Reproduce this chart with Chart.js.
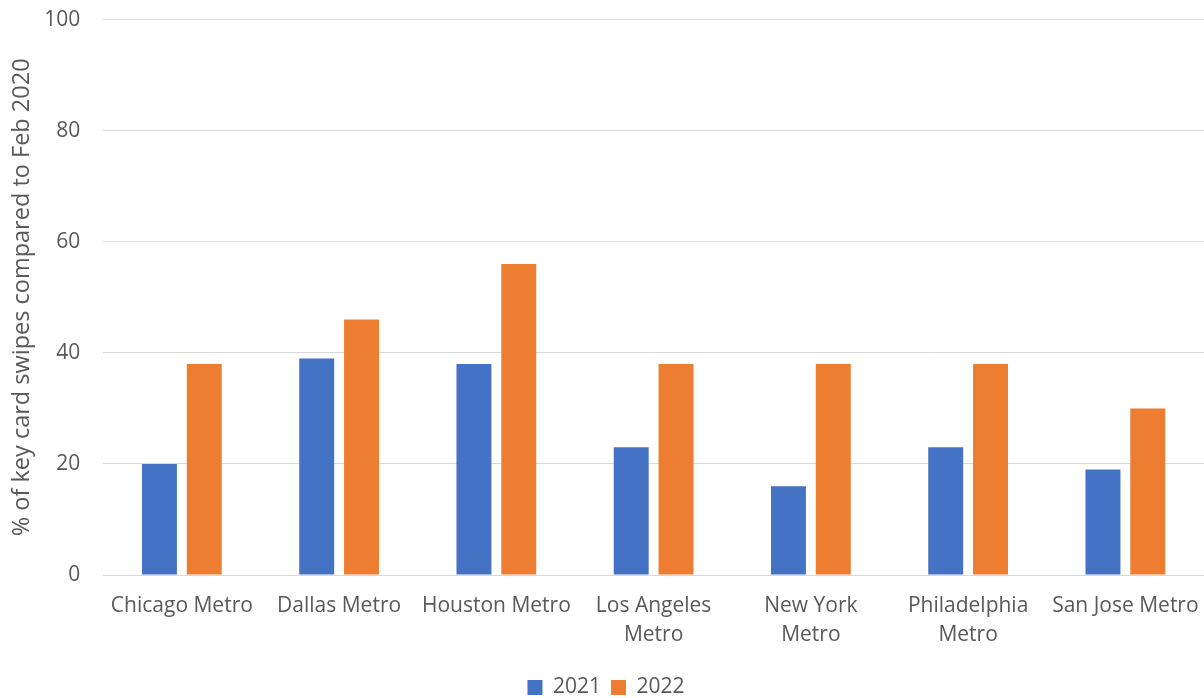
<!DOCTYPE html>
<html>
<head>
<meta charset="utf-8">
<script src="https://cdn.jsdelivr.net/npm/chart.js@4/dist/chart.umd.min.js"></script>
<style>
  html, body { margin: 0; padding: 0; background: #fff; }
  #wrap { width: 1204px; height: 698px; }
</style>
</head>
<body>
<div id="wrap"><canvas id="swipesChart"></canvas></div>
<script>
var metros = ['Chicago Metro', 'Dallas Metro', 'Houston Metro', ['Los Angeles', 'Metro'],
              ['New York', 'Metro'], ['Philadelphia', 'Metro'], 'San Jose Metro'];
var swipes2021 = [20, 39, 38, 23, 16, 23, 19];
var swipes2022 = [38, 46, 56, 38, 38, 38, 30];
var yTicks = [0, 20, 40, 60, 80, 100];

var textColor = '#595959';
var fontFamily = '"Open Sans", "Noto Sans", sans-serif';

var ctx = document.getElementById('swipesChart').getContext('2d');
new Chart(ctx, {
    type: 'bar',
    data: {
        labels: metros,
        datasets: [{
            label: '2021',
            data: swipes2021,
            backgroundColor: '#4472c4',
            barPercentage: 0.78,
            categoryPercentage: 0.57
        }, {
            label: '2022',
            data: swipes2022,
            backgroundColor: '#ed7d31',
            barPercentage: 0.78,
            categoryPercentage: 0.57
        }]
    },
    options: {
        responsive: true,
        maintainAspectRatio: false,
        animation: false,
        layout: {
            padding: { top: 0, right: 0, left: 8, bottom: -10 }
        },
        plugins: {
            legend: {
                position: 'bottom',
                labels: {
                    boxWidth: 15,
                    boxHeight: 15,
                    padding: 10,
                    color: textColor,
                    font: { family: fontFamily, size: 21 }
                }
            },
            tooltip: { enabled: false }
        },
        scales: {
            x: {
                // grid hidden, but tickLength still pushes the labels down
                grid: { display: false, drawTicks: true, tickLength: 15 },
                border: { color: '#d9d9d9', width: 1 },
                ticks: {
                    color: textColor,
                    font: { family: fontFamily, size: 21, lineHeight: 29 / 21 },
                    maxRotation: 0,
                    autoSkip: false,
                    padding: 2
                },
                afterFit: function (scale) {
                    // extra room between the labels and the legend
                    scale.height += 15;
                }
            },
            y: {
                min: 0,
                max: 100,
                afterBuildTicks: function (axis) {
                    axis.ticks = yTicks.map(function (v) { return { value: v }; });
                },
                grid: { color: '#d9d9d9', drawTicks: true, tickLength: 16, tickColor: 'rgba(0,0,0,0)' },
                border: { display: false },
                ticks: {
                    color: textColor,
                    font: { family: fontFamily, size: 21 },
                    padding: 7
                },
                title: {
                    display: true,
                    text: '% of key card swipes compared to Feb 2020',
                    color: textColor,
                    font: { family: fontFamily, size: 23.5 },
                    padding: { top: 0, bottom: 1 }
                }
            }
        }
    }
});
</script>
</body>
</html>
